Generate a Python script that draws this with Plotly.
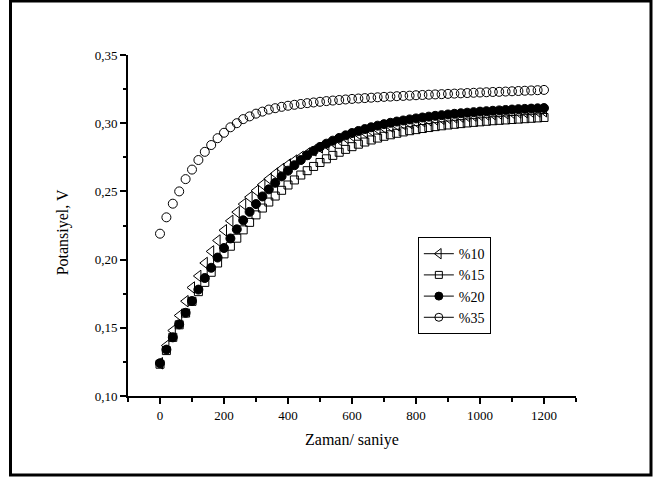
import plotly.graph_objects as go

time_s = list(range(0, 1201, 20))

p10 = [0.124, 0.137, 0.148, 0.159, 0.1695, 0.1795, 0.188, 0.1975, 0.206, 0.214,
       0.2215, 0.2284, 0.2348, 0.2407, 0.2458, 0.2505, 0.255, 0.2592, 0.263, 0.2665,
       0.2697, 0.2726, 0.2753, 0.2778, 0.2801, 0.2822, 0.2842, 0.286, 0.2877, 0.2893,
       0.2907, 0.292, 0.2933, 0.2945, 0.2956, 0.2966, 0.2976, 0.2985, 0.2993, 0.3001,
       0.3008, 0.3015, 0.3021, 0.3027, 0.3033, 0.3038, 0.3043, 0.3048, 0.3052, 0.3056,
       0.306, 0.3064, 0.3067, 0.307, 0.3073, 0.3076, 0.3079, 0.3081, 0.3084, 0.3086, 0.3088]

p15 = [0.1233, 0.1333, 0.143, 0.1522, 0.1608, 0.1694, 0.1765, 0.1833, 0.1907, 0.1975,
       0.2042, 0.2098, 0.2157, 0.2218, 0.2273, 0.2328, 0.2378, 0.2422, 0.2466, 0.2508,
       0.2547, 0.2584, 0.262, 0.2652, 0.2683, 0.2712, 0.2739, 0.2764, 0.2787, 0.2808,
       0.2828, 0.2846, 0.2862, 0.2877, 0.2891, 0.2904, 0.2915, 0.2926, 0.2936, 0.2945,
       0.2953, 0.2961, 0.2968, 0.2975, 0.2981, 0.2987, 0.2992, 0.2997, 0.3002, 0.3006,
       0.301, 0.3014, 0.3018, 0.3021, 0.3024, 0.3027, 0.303, 0.3033, 0.3036, 0.3039, 0.3042]

p20 = [0.124, 0.134, 0.143, 0.1525, 0.161, 0.1696, 0.178, 0.1865, 0.194, 0.2015,
       0.2085, 0.2155, 0.2222, 0.2288, 0.235, 0.2407, 0.2463, 0.2515, 0.2563, 0.261,
       0.2652, 0.2692, 0.273, 0.2765, 0.2797, 0.2826, 0.285, 0.2872, 0.2892, 0.2911,
       0.2928, 0.2943, 0.2957, 0.297, 0.2982, 0.2993, 0.3003, 0.3012, 0.302, 0.3028,
       0.3035, 0.3042, 0.3048, 0.3054, 0.3059, 0.3064, 0.3069, 0.3073, 0.3077, 0.3081,
       0.3085, 0.3088, 0.3091, 0.3094, 0.3097, 0.31, 0.3103, 0.3105, 0.3107, 0.3109, 0.3111]

p35 = [0.219, 0.231, 0.241, 0.25, 0.259, 0.266, 0.273, 0.279, 0.284, 0.289,
       0.293, 0.297, 0.3, 0.303, 0.305, 0.307, 0.3085, 0.31, 0.311, 0.312,
       0.3128, 0.3135, 0.3141, 0.3147, 0.3152, 0.3157, 0.3162, 0.3166, 0.317, 0.3174,
       0.3178, 0.3181, 0.3184, 0.3187, 0.319, 0.3193, 0.3195, 0.3198, 0.32, 0.3202,
       0.3205, 0.3207, 0.3209, 0.3211, 0.3213, 0.3215, 0.3217, 0.3219, 0.3221, 0.3223,
       0.3225, 0.3227, 0.3229, 0.323, 0.3232, 0.3234, 0.3236, 0.3238, 0.324, 0.3242, 0.3244]

series_names = ["%10", "%15", "%20", "%35"]
x_tickvals = [0, 200, 400, 600, 800, 1000, 1200]
x_ticktext = ["0", "200", "400", "600", "800", "1000", "1200"]
y_tickvals = [0.10, 0.15, 0.20, 0.25, 0.30, 0.35]
y_ticktext = ["0,10", "0,15", "0,20", "0,25", "0,30", "0,35"]

FONT = "'Liberation Serif', 'Times New Roman', serif"
styles = [
    dict(symbol="triangle-left-open", size=10, color="black", line=dict(color="black", width=1)),
    dict(symbol="square-open", size=8, color="black", line=dict(color="black", width=1)),
    dict(symbol="circle", size=9, color="black", line=dict(color="black", width=1)),
    dict(symbol="circle-open", size=9, color="black", line=dict(color="black", width=1)),
]
legend_styles = [dict(st, size=st["size"] - 1) for st in styles]

fig = go.Figure()
for name, ys, st in zip(series_names, [p10, p15, p20, p35], styles):
    fig.add_trace(go.Scatter(x=time_s, y=ys, mode="markers", marker=st,
                             showlegend=False, name=name, cliponaxis=False))
for name, st in zip(series_names, legend_styles):
    fig.add_trace(go.Scatter(x=[None], y=[None], mode="lines+markers", marker=st,
                             line=dict(color="black", width=1), name=name, showlegend=True))

fig.update_layout(
    width=661, height=477,
    margin=dict(l=128, r=85, t=55, b=81),
    paper_bgcolor="white", plot_bgcolor="white",
    font=dict(family=FONT, size=12, color="black"),
    showlegend=True,
    legend=dict(x=0.647, y=0.466, xanchor="left", yanchor="top",
                bordercolor="black", borderwidth=1, bgcolor="white",
                font=dict(family=FONT, size=14, color="black"),
                itemwidth=30, tracegroupgap=0),
    xaxis=dict(range=[-100, 1300], showgrid=False, zeroline=False,
               showline=True, linecolor="black", linewidth=2,
               ticks="outside", ticklen=6, tickwidth=2, tickcolor="black",
               tickvals=x_tickvals, ticktext=x_ticktext,
               tickfont=dict(family=FONT, size=13),
               minor=dict(tickvals=[-100, 100, 300, 500, 700, 900, 1100, 1300],
                          ticks="outside", ticklen=4, tickwidth=2, tickcolor="black")),
    yaxis=dict(range=[0.10, 0.35], showgrid=False, zeroline=False,
               showline=True, linecolor="black", linewidth=2,
               ticks="outside", ticklen=6, tickwidth=2, tickcolor="black",
               tickvals=y_tickvals, ticktext=y_ticktext,
               tickfont=dict(family=FONT, size=13),
               minor=dict(tickvals=[0.125, 0.175, 0.225, 0.275, 0.325],
                          ticks="outside", ticklen=3, tickwidth=2, tickcolor="black")),
)

fig.add_annotation(text="Zaman/ saniye", xref="paper", yref="paper", x=0.5, y=-0.13,
                   xanchor="center", yanchor="middle", showarrow=False,
                   font=dict(family=FONT, size=16, color="black"))
fig.add_annotation(text="Potansiyel, V", xref="paper", yref="paper", x=-0.145, y=0.48,
                   xanchor="center", yanchor="middle", showarrow=False, textangle=-90,
                   font=dict(family=FONT, size=16, color="black"))

# outer frame
fig.add_shape(type="rect", xref="paper", yref="paper",
              x0=(10.5 - 128) / 448, x1=(651 - 128) / 448,
              y0=(396 - 475) / 340.5, y1=(396 - 1.5) / 340.5,
              line=dict(color="black", width=3), fillcolor="rgba(0,0,0,0)", layer="below")

fig.write_html("out.html")
